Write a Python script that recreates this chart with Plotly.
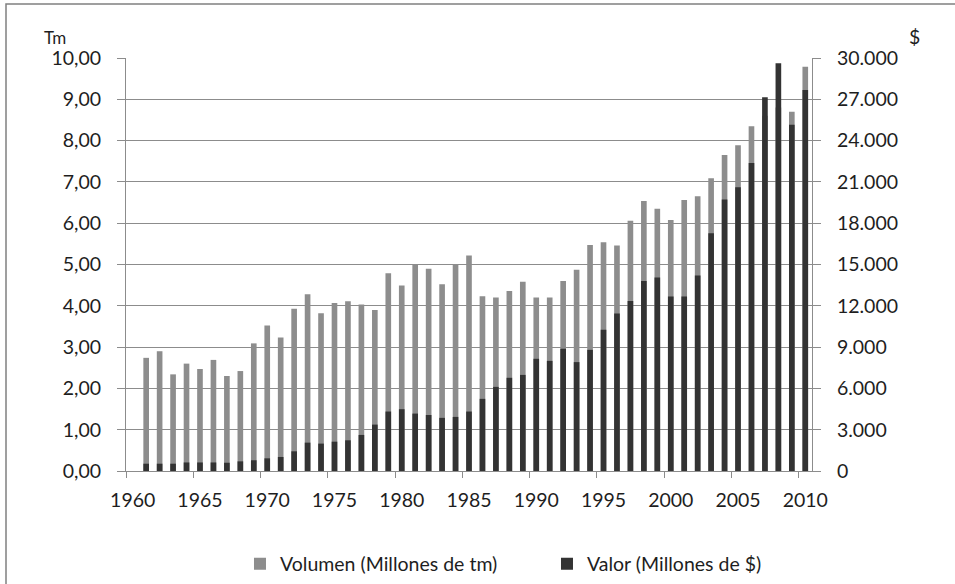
import plotly.graph_objects as go

years = list(range(1961, 2011))
volumen = [2.74, 2.90, 2.34, 2.60, 2.47, 2.69, 2.30, 2.42, 3.09, 3.52,
           3.23, 3.93, 4.28, 3.82, 4.07, 4.11, 4.03, 3.90, 4.79, 4.49,
           4.99, 4.90, 4.52, 5.00, 5.22, 4.23, 4.20, 4.36, 4.58, 4.20,
           4.20, 4.60, 4.87, 5.47, 5.54, 5.46, 6.06, 6.54, 6.35, 6.08,
           6.56, 6.65, 7.09, 7.65, 7.89, 8.35, 8.60, 8.80, 8.70, 9.79]
valor = [530, 530, 530, 620, 620, 620, 600, 700, 780, 920,
         1020, 1430, 2060, 1990, 2130, 2230, 2620, 3370, 4320, 4490,
         4170, 4070, 3860, 3930, 4320, 5240, 6110, 6770, 6980, 8150,
         8000, 8880, 7910, 8800, 10260, 11440, 12340, 13810, 14060, 12680,
         12680, 14200, 17270, 19720, 20610, 22380, 27150, 29610, 25160, 27680]
label_years = list(range(1960, 2011, 5))
boundary_ticks = [y - 0.5 for y in label_years]

FONT = "Lato, 'Open Sans', sans-serif"
TXT = "#1e1e1e"
GRID = "#8c8c8c"
FS = 19.5

fig = go.Figure()
fig.add_trace(go.Bar(x=years, y=volumen, name="Volumen (Millones de tm)",
                     marker=dict(color="#8d8d8d", line=dict(width=0)),
                     width=0.42, xaxis="x", yaxis="y"))
fig.add_trace(go.Bar(x=years, y=valor, name="Valor (Millones de $)",
                     marker=dict(color="#333333", line=dict(width=0)),
                     width=0.42, xaxis="x2", yaxis="y2"))

fig.update_layout(
    width=955, height=584,
    margin=dict(l=126, r=143, t=58, b=113, autoexpand=False),
    paper_bgcolor="white", plot_bgcolor="white",
    separators=",.",
    barmode="overlay",
    font=dict(family=FONT, size=FS, color=TXT),
    xaxis=dict(range=[1959.5, 2010.5], tickmode="array", tickvals=label_years,
               ticks="", showline=True, linecolor=GRID, linewidth=1,
               showgrid=False, zeroline=False, ticklabelstandoff=12,
               automargin=False, tickfont=dict(size=FS, color=TXT)),
    xaxis2=dict(range=[1959.5, 2010.5], overlaying="x", anchor="y2", side="bottom",
                tickmode="array", tickvals=boundary_ticks, showticklabels=False,
                ticks="outside", ticklen=6, tickcolor=GRID, showgrid=False,
                showline=False, zeroline=False, automargin=False),
    yaxis=dict(range=[0, 10], dtick=1, tickformat=".2f", showgrid=True,
               gridcolor=GRID, gridwidth=1, showline=True, linecolor=GRID,
               ticks="outside", ticklen=8, tickcolor=GRID, zeroline=False,
               ticklabelstandoff=12, automargin=False,
               tickfont=dict(size=FS, color=TXT)),
    yaxis2=dict(range=[0, 30000], dtick=3000, tickformat=",.0f", overlaying="y",
                side="right", anchor="x", showgrid=False, showline=True,
                linecolor=GRID, ticks="outside", ticklen=8, tickcolor=GRID,
                zeroline=False, ticklabelstandoff=12, automargin=False,
                tickfont=dict(size=FS, color=TXT)),
    showlegend=True,
    legend=dict(orientation="h", xref="container", x=0.2513, xanchor="left",
                yref="container", y=0.034, yanchor="middle",
                font=dict(size=FS, color=TXT),
                entrywidth=262, entrywidthmode="pixels",
                traceorder="normal", bgcolor="rgba(0,0,0,0)"),
    annotations=[
        dict(text="Tm", xref="paper", yref="paper", x=-0.1224, y=1.0496,
             xanchor="left", yanchor="middle", showarrow=False,
             font=dict(size=17, color=TXT)),
        dict(text="$", xref="paper", yref="paper", x=1.1385, y=1.053,
             xanchor="left", yanchor="middle", showarrow=False,
             font=dict(size=FS, color=TXT)),
    ],
    shapes=[dict(type="rect", xref="paper", yref="paper",
                 x0=(6 - 126) / 686, x1=1.3, y0=-0.4, y1=1 + (58 - 4) / 413,
                 line=dict(color="#808080", width=1.5), fillcolor="rgba(0,0,0,0)",
                 layer="below")],
)

fig.write_html("out.html", config={"displayModeBar": False},
               post_script="document.body.style.margin='0';")
